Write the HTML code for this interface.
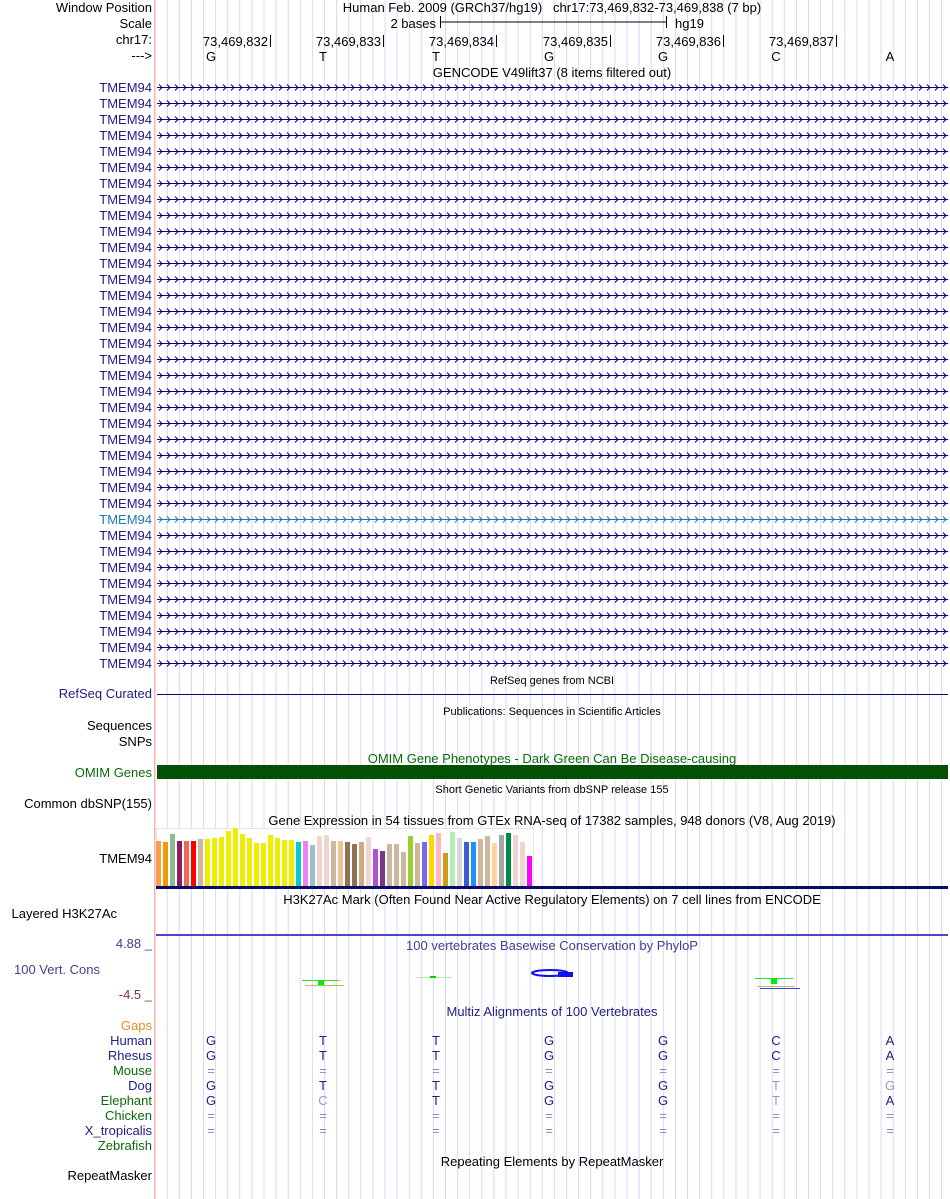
<!DOCTYPE html>
<html><head><meta charset="utf-8"><style>
html,body{margin:0;padding:0;background:#fff;}
svg{display:block;font-family:"Liberation Sans",sans-serif;}
</style></head><body>
<svg width="950" height="1199" xmlns="http://www.w3.org/2000/svg">
<defs>
<pattern id="grid" x="166.7" y="0" width="12.1" height="10" patternUnits="userSpaceOnUse"><rect x="0" y="0" width="1" height="10" fill="#d8d8f6"/></pattern>
<pattern id="chev" x="158" y="0" width="8" height="16" patternUnits="userSpaceOnUse"><path d="M1,4.5 L4,7.5 L1,10.5" fill="none" stroke="#000080" stroke-width="1"/></pattern>
<pattern id="chev2" x="158" y="0" width="8" height="16" patternUnits="userSpaceOnUse"><path d="M1,4.5 L4,7.5 L1,10.5" fill="none" stroke="#1e78b4" stroke-width="1"/></pattern>
</defs>
<rect x="156" y="0" width="794" height="1199" fill="url(#grid)"/>
<rect x="154" y="0" width="1.5" height="1199" fill="#ffb0b0"/>

<g font-size="13" fill="#000" text-anchor="end">
<text x="152" y="12">Window Position</text>
<text x="152" y="28">Scale</text>
<text x="152" y="44">chr17:</text>
<text x="152" y="60">---&gt;</text>
</g>
<g font-size="13" fill="#000">
<text x="552" y="12" text-anchor="middle" xml:space="preserve">Human Feb. 2009 (GRCh37/hg19)   chr17:73,469,832-73,469,838 (7 bp)</text>
<text x="436" y="28" text-anchor="end">2 bases</text>
<text x="675" y="28">hg19</text>
<text x="552" y="77" text-anchor="middle">GENCODE V49lift37 (8 items filtered out)</text>
</g>
<g stroke="#000" stroke-width="1">
<line x1="440" y1="22" x2="666" y2="22"/><line x1="440.5" y1="16" x2="440.5" y2="28"/><line x1="666.5" y1="16" x2="666.5" y2="28"/>
<line x1="270.5" y1="35" x2="270.5" y2="47"/><line x1="383.5" y1="35" x2="383.5" y2="47"/><line x1="496.5" y1="35" x2="496.5" y2="47"/><line x1="610.5" y1="35" x2="610.5" y2="47"/><line x1="723.5" y1="35" x2="723.5" y2="47"/><line x1="836.5" y1="35" x2="836.5" y2="47"/>
</g>
<g font-size="13" fill="#000" text-anchor="end">
<text x="268" y="46">73,469,832</text><text x="381" y="46">73,469,833</text><text x="494" y="46">73,469,834</text><text x="608" y="46">73,469,835</text><text x="721" y="46">73,469,836</text><text x="834" y="46">73,469,837</text>
</g>
<g font-size="13" fill="#000" text-anchor="middle">
<text x="211" y="61">G</text><text x="323" y="61">T</text><text x="436" y="61">T</text><text x="549" y="61">G</text><text x="663" y="61">G</text><text x="776" y="61">C</text><text x="890" y="61">A</text>
</g>

<g id="genes" font-size="13" text-anchor="end" fill="#20208a">
<text x="152" y="92">TMEM94</text><rect x="157" y="87" width="791" height="1" fill="#000080"/><rect x="157" y="84" width="791" height="7" fill="url(#chev)"/>
<text x="152" y="108">TMEM94</text><rect x="157" y="103" width="791" height="1" fill="#000080"/><rect x="157" y="100" width="791" height="7" fill="url(#chev)"/>
<text x="152" y="124">TMEM94</text><rect x="157" y="119" width="791" height="1" fill="#000080"/><rect x="157" y="116" width="791" height="7" fill="url(#chev)"/>
<text x="152" y="140">TMEM94</text><rect x="157" y="135" width="791" height="1" fill="#000080"/><rect x="157" y="132" width="791" height="7" fill="url(#chev)"/>
<text x="152" y="156">TMEM94</text><rect x="157" y="151" width="791" height="1" fill="#000080"/><rect x="157" y="148" width="791" height="7" fill="url(#chev)"/>
<text x="152" y="172">TMEM94</text><rect x="157" y="167" width="791" height="1" fill="#000080"/><rect x="157" y="164" width="791" height="7" fill="url(#chev)"/>
<text x="152" y="188">TMEM94</text><rect x="157" y="183" width="791" height="1" fill="#000080"/><rect x="157" y="180" width="791" height="7" fill="url(#chev)"/>
<text x="152" y="204">TMEM94</text><rect x="157" y="199" width="791" height="1" fill="#000080"/><rect x="157" y="196" width="791" height="7" fill="url(#chev)"/>
<text x="152" y="220">TMEM94</text><rect x="157" y="215" width="791" height="1" fill="#000080"/><rect x="157" y="212" width="791" height="7" fill="url(#chev)"/>
<text x="152" y="236">TMEM94</text><rect x="157" y="231" width="791" height="1" fill="#000080"/><rect x="157" y="228" width="791" height="7" fill="url(#chev)"/>
<text x="152" y="252">TMEM94</text><rect x="157" y="247" width="791" height="1" fill="#000080"/><rect x="157" y="244" width="791" height="7" fill="url(#chev)"/>
<text x="152" y="268">TMEM94</text><rect x="157" y="263" width="791" height="1" fill="#000080"/><rect x="157" y="260" width="791" height="7" fill="url(#chev)"/>
<text x="152" y="284">TMEM94</text><rect x="157" y="279" width="791" height="1" fill="#000080"/><rect x="157" y="276" width="791" height="7" fill="url(#chev)"/>
<text x="152" y="300">TMEM94</text><rect x="157" y="295" width="791" height="1" fill="#000080"/><rect x="157" y="292" width="791" height="7" fill="url(#chev)"/>
<text x="152" y="316">TMEM94</text><rect x="157" y="311" width="791" height="1" fill="#000080"/><rect x="157" y="308" width="791" height="7" fill="url(#chev)"/>
<text x="152" y="332">TMEM94</text><rect x="157" y="327" width="791" height="1" fill="#000080"/><rect x="157" y="324" width="791" height="7" fill="url(#chev)"/>
<text x="152" y="348">TMEM94</text><rect x="157" y="343" width="791" height="1" fill="#000080"/><rect x="157" y="340" width="791" height="7" fill="url(#chev)"/>
<text x="152" y="364">TMEM94</text><rect x="157" y="359" width="791" height="1" fill="#000080"/><rect x="157" y="356" width="791" height="7" fill="url(#chev)"/>
<text x="152" y="380">TMEM94</text><rect x="157" y="375" width="791" height="1" fill="#000080"/><rect x="157" y="372" width="791" height="7" fill="url(#chev)"/>
<text x="152" y="396">TMEM94</text><rect x="157" y="391" width="791" height="1" fill="#000080"/><rect x="157" y="388" width="791" height="7" fill="url(#chev)"/>
<text x="152" y="412">TMEM94</text><rect x="157" y="407" width="791" height="1" fill="#000080"/><rect x="157" y="404" width="791" height="7" fill="url(#chev)"/>
<text x="152" y="428">TMEM94</text><rect x="157" y="423" width="791" height="1" fill="#000080"/><rect x="157" y="420" width="791" height="7" fill="url(#chev)"/>
<text x="152" y="444">TMEM94</text><rect x="157" y="439" width="791" height="1" fill="#000080"/><rect x="157" y="436" width="791" height="7" fill="url(#chev)"/>
<text x="152" y="460">TMEM94</text><rect x="157" y="455" width="791" height="1" fill="#000080"/><rect x="157" y="452" width="791" height="7" fill="url(#chev)"/>
<text x="152" y="476">TMEM94</text><rect x="157" y="471" width="791" height="1" fill="#000080"/><rect x="157" y="468" width="791" height="7" fill="url(#chev)"/>
<text x="152" y="492">TMEM94</text><rect x="157" y="487" width="791" height="1" fill="#000080"/><rect x="157" y="484" width="791" height="7" fill="url(#chev)"/>
<text x="152" y="508">TMEM94</text><rect x="157" y="503" width="791" height="1" fill="#000080"/><rect x="157" y="500" width="791" height="7" fill="url(#chev)"/>
<text x="152" y="524" fill="#1e78b4">TMEM94</text><rect x="157" y="519" width="791" height="1" fill="#1e78b4"/><rect x="157" y="516" width="791" height="7" fill="url(#chev2)"/>
<text x="152" y="540">TMEM94</text><rect x="157" y="535" width="791" height="1" fill="#000080"/><rect x="157" y="532" width="791" height="7" fill="url(#chev)"/>
<text x="152" y="556">TMEM94</text><rect x="157" y="551" width="791" height="1" fill="#000080"/><rect x="157" y="548" width="791" height="7" fill="url(#chev)"/>
<text x="152" y="572">TMEM94</text><rect x="157" y="567" width="791" height="1" fill="#000080"/><rect x="157" y="564" width="791" height="7" fill="url(#chev)"/>
<text x="152" y="588">TMEM94</text><rect x="157" y="583" width="791" height="1" fill="#000080"/><rect x="157" y="580" width="791" height="7" fill="url(#chev)"/>
<text x="152" y="604">TMEM94</text><rect x="157" y="599" width="791" height="1" fill="#000080"/><rect x="157" y="596" width="791" height="7" fill="url(#chev)"/>
<text x="152" y="620">TMEM94</text><rect x="157" y="615" width="791" height="1" fill="#000080"/><rect x="157" y="612" width="791" height="7" fill="url(#chev)"/>
<text x="152" y="636">TMEM94</text><rect x="157" y="631" width="791" height="1" fill="#000080"/><rect x="157" y="628" width="791" height="7" fill="url(#chev)"/>
<text x="152" y="652">TMEM94</text><rect x="157" y="647" width="791" height="1" fill="#000080"/><rect x="157" y="644" width="791" height="7" fill="url(#chev)"/>
<text x="152" y="668">TMEM94</text><rect x="157" y="663" width="791" height="1" fill="#000080"/><rect x="157" y="660" width="791" height="7" fill="url(#chev)"/>
</g>

<g font-size="11" fill="#000" text-anchor="middle">
<text x="552" y="684">RefSeq genes from NCBI</text>
<text x="552" y="715">Publications: Sequences in Scientific Articles</text>
<text x="552" y="793">Short Genetic Variants from dbSNP release 155</text>
</g>
<rect x="157" y="694" width="791" height="1" fill="#000080"/>
<g font-size="13" text-anchor="end">
<text x="152" y="698" fill="#20208a">RefSeq Curated</text>
<text x="152" y="730" fill="#000">Sequences</text>
<text x="152" y="746" fill="#000">SNPs</text>
<text x="152" y="777" fill="#0a6a0a">OMIM Genes</text>
<text x="152" y="808" fill="#000">Common dbSNP(155)</text>
<text x="152" y="863" fill="#000">TMEM94</text>
<text x="117" y="918" fill="#000">Layered H3K27Ac</text>
<text x="152" y="948" fill="#404090">4.88 _</text>
<text x="100" y="974" fill="#404090">100 Vert. Cons</text>
<text x="152" y="999" fill="#8b3030">-4.5 _</text>
<text x="152" y="1030" fill="#e69020">Gaps</text>
<text x="152" y="1045" fill="#20208a">Human</text>
<text x="152" y="1060" fill="#20208a">Rhesus</text>
<text x="152" y="1075" fill="#0a6a0a">Mouse</text>
<text x="152" y="1090" fill="#20208a">Dog</text>
<text x="152" y="1105" fill="#0a6a0a">Elephant</text>
<text x="152" y="1120" fill="#0a6a0a">Chicken</text>
<text x="152" y="1135" fill="#20208a">X_tropicalis</text>
<text x="152" y="1150" fill="#0a6a0a">Zebrafish</text>
<text x="152" y="1180" fill="#000">RepeatMasker</text>
</g>
<g font-size="13" text-anchor="middle">
<text x="552" y="763" fill="#0a6a0a">OMIM Gene Phenotypes - Dark Green Can Be Disease-causing</text>
<text x="552" y="825" fill="#000">Gene Expression in 54 tissues from GTEx RNA-seq of 17382 samples, 948 donors (V8, Aug 2019)</text>
<text x="552" y="904" fill="#000">H3K27Ac Mark (Often Found Near Active Regulatory Elements) on 7 cell lines from ENCODE</text>
<text x="552" y="950" fill="#404090">100 vertebrates Basewise Conservation by PhyloP</text>
<text x="552" y="1016" fill="#20208a">Multiz Alignments of 100 Vertebrates</text>
<text x="552" y="1166" fill="#000">Repeating Elements by RepeatMasker</text>
</g>
<rect x="157" y="765" width="791" height="14" fill="#045004"/>

<rect x="156.5" y="828.5" width="377" height="58" fill="#fff" stroke="#e4e4e4"/>
<g>
<rect x="156" y="841" width="5" height="45" fill="#f4a04a"/>
<rect x="163" y="842" width="5" height="44" fill="#ee9a00"/>
<rect x="170" y="834" width="5" height="52" fill="#8fbc8f"/>
<rect x="177" y="841" width="5" height="45" fill="#8b1c62"/>
<rect x="184" y="841" width="5" height="45" fill="#ee6a50"/>
<rect x="191" y="841" width="5" height="45" fill="#ff0000"/>
<rect x="198" y="839" width="5" height="47" fill="#cdb79e"/>
<rect x="205" y="839" width="5" height="47" fill="#eeee00"/>
<rect x="212" y="838" width="5" height="48" fill="#eeee00"/>
<rect x="219" y="837" width="5" height="49" fill="#eeee00"/>
<rect x="226" y="831" width="5" height="55" fill="#eeee00"/>
<rect x="233" y="828" width="5" height="58" fill="#eeee00"/>
<rect x="240" y="834" width="5" height="52" fill="#eeee00"/>
<rect x="247" y="838" width="5" height="48" fill="#eeee00"/>
<rect x="254" y="843" width="5" height="43" fill="#eeee00"/>
<rect x="261" y="843" width="5" height="43" fill="#eeee00"/>
<rect x="268" y="835" width="5" height="51" fill="#eeee00"/>
<rect x="275" y="838" width="5" height="48" fill="#eeee00"/>
<rect x="282" y="840" width="5" height="46" fill="#eeee00"/>
<rect x="289" y="840" width="5" height="46" fill="#eeee00"/>
<rect x="296" y="842" width="5" height="44" fill="#00cdcd"/>
<rect x="303" y="841" width="5" height="45" fill="#ee82ee"/>
<rect x="310" y="845" width="5" height="41" fill="#9ac0cd"/>
<rect x="317" y="836" width="5" height="50" fill="#eed5d2"/>
<rect x="324" y="835" width="5" height="51" fill="#eed5d2"/>
<rect x="331" y="841" width="5" height="45" fill="#cdb79e"/>
<rect x="338" y="841" width="5" height="45" fill="#eec591"/>
<rect x="345" y="842" width="5" height="44" fill="#8b7355"/>
<rect x="352" y="844" width="5" height="42" fill="#8b7355"/>
<rect x="359" y="842" width="5" height="44" fill="#cdaa7d"/>
<rect x="366" y="837" width="5" height="49" fill="#eed5d2"/>
<rect x="373" y="849" width="5" height="37" fill="#b452cd"/>
<rect x="380" y="851" width="5" height="35" fill="#7a378b"/>
<rect x="387" y="844" width="5" height="42" fill="#cdb79e"/>
<rect x="394" y="844" width="5" height="42" fill="#cdb79e"/>
<rect x="401" y="852" width="5" height="34" fill="#cdb79e"/>
<rect x="408" y="836" width="5" height="50" fill="#9acd32"/>
<rect x="415" y="843" width="5" height="43" fill="#cdb79e"/>
<rect x="422" y="842" width="5" height="44" fill="#7a67ee"/>
<rect x="429" y="835" width="5" height="51" fill="#ffd700"/>
<rect x="436" y="833" width="5" height="53" fill="#ffb6c1"/>
<rect x="443" y="853" width="5" height="33" fill="#cd9b1d"/>
<rect x="450" y="832" width="5" height="54" fill="#b4eeb4"/>
<rect x="457" y="838" width="5" height="48" fill="#d9d9d9"/>
<rect x="464" y="842" width="5" height="44" fill="#3a5fcd"/>
<rect x="471" y="842" width="5" height="44" fill="#1e90ff"/>
<rect x="478" y="839" width="5" height="47" fill="#cdb79e"/>
<rect x="485" y="836" width="5" height="50" fill="#cdb79e"/>
<rect x="492" y="843" width="5" height="43" fill="#ffd39b"/>
<rect x="499" y="835" width="5" height="51" fill="#a6a6a6"/>
<rect x="506" y="833" width="5" height="53" fill="#008b45"/>
<rect x="513" y="835" width="5" height="51" fill="#eed5d2"/>
<rect x="520" y="842" width="5" height="44" fill="#eed5d2"/>
<rect x="527" y="856" width="5" height="30" fill="#ff00ff"/>
</g>
<rect x="156" y="886" width="792" height="3" fill="#0a0a6a"/>
<rect x="156" y="934" width="792" height="2" fill="#4848c8"/>

<rect x="302" y="980" width="37" height="1" fill="#30e030"/>
<rect x="318" y="980" width="6" height="5" fill="#00ee00"/>
<rect x="305" y="985" width="39" height="1" fill="#a0a020" opacity="0.7"/>
<rect x="416" y="977" width="36" height="1" fill="#b0f0b0"/>
<rect x="430" y="976" width="6" height="2" fill="#00cc00"/>
<ellipse cx="550" cy="973" rx="18" ry="3" fill="none" stroke="#1010f0" stroke-width="2"/>
<rect x="558" y="972" width="15" height="5" fill="#1010f0"/>
<rect x="755" y="978" width="38" height="1" fill="#30e030"/>
<rect x="771" y="978" width="6" height="6" fill="#00ee00"/>
<rect x="757" y="986" width="38" height="1" fill="#a0a020" opacity="0.7"/>
<rect x="760" y="988" width="40" height="1" fill="#4040e0"/>

<g font-size="13" text-anchor="middle" fill="#20208a">
<text x="211" y="1045">G</text><text x="323" y="1045">T</text><text x="436" y="1045">T</text><text x="549" y="1045">G</text><text x="663" y="1045">G</text><text x="776" y="1045">C</text><text x="890" y="1045">A</text>
<text x="211" y="1060">G</text><text x="323" y="1060">T</text><text x="436" y="1060">T</text><text x="549" y="1060">G</text><text x="663" y="1060">G</text><text x="776" y="1060">C</text><text x="890" y="1060">A</text>
<text x="211" y="1090">G</text><text x="323" y="1090">T</text><text x="436" y="1090">T</text><text x="549" y="1090">G</text><text x="663" y="1090">G</text><text x="776" y="1090" fill="#9898c8">T</text><text x="890" y="1090" fill="#9898c8">G</text>
<text x="211" y="1105">G</text><text x="323" y="1105" fill="#9898c8">C</text><text x="436" y="1105">T</text><text x="549" y="1105">G</text><text x="663" y="1105">G</text><text x="776" y="1105" fill="#9898c8">T</text><text x="890" y="1105">A</text>
</g>
<g font-size="13" text-anchor="middle" fill="#8888c0">
<text x="211" y="1075">=</text><text x="323" y="1075">=</text><text x="436" y="1075">=</text><text x="549" y="1075">=</text><text x="663" y="1075">=</text><text x="776" y="1075">=</text><text x="890" y="1075">=</text>
<text x="211" y="1120">=</text><text x="323" y="1120">=</text><text x="436" y="1120">=</text><text x="549" y="1120">=</text><text x="663" y="1120">=</text><text x="776" y="1120">=</text><text x="890" y="1120">=</text>
<text x="211" y="1135">=</text><text x="323" y="1135">=</text><text x="436" y="1135">=</text><text x="549" y="1135">=</text><text x="663" y="1135">=</text><text x="776" y="1135">=</text><text x="890" y="1135">=</text>
</g>
</svg>
</body></html>
